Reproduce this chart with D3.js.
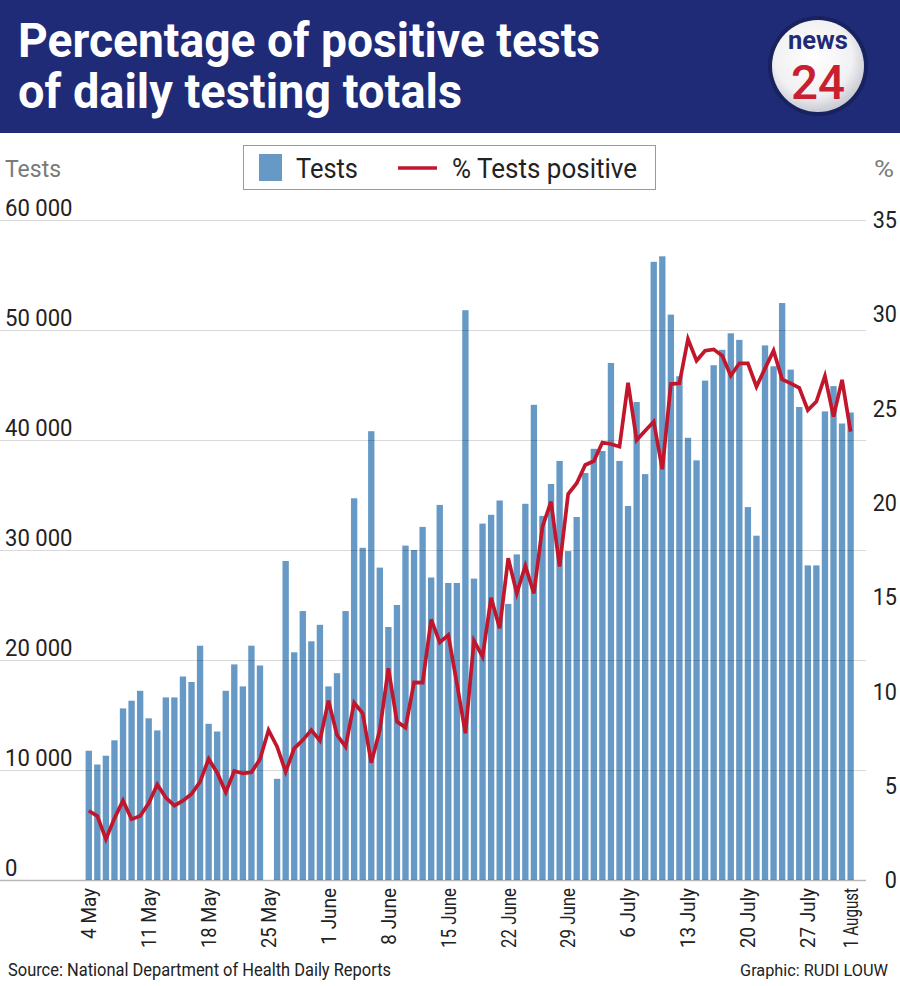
<!DOCTYPE html>
<html>
<head>
<meta charset="utf-8">
<script src="https://cdn.jsdelivr.net/npm/d3@7"></script>
<style>
  html, body { margin: 0; padding: 0; background: #fff; }
  svg { display: block; font-family: Roboto, "Open Sans", "DejaVu Sans", sans-serif; }
</style>
</head>
<body>
<svg id="chart" width="900" height="986"></svg>
<script>
// ---------------- DATA ----------------
const startDay = "2020-05-04";
const endDay = "2020-08-01";
const tests = [
  11750, 10500, 11300, 12700, 15600, 16300, 17200, 14700, 13600, 16600,
  16600, 18500, 18000, 21300, 14200, 13500, 17200, 19600, 17600, 21300,
  19500, null, 9200, 29000, 20700, 24450, 21700, 23200, 17600, 18800,
  24450, 34700, 30200, 40800, 28400, 23000, 25000, 30400, 30000, 32100,
  27500, 34100, 27000, 27000, 51800, 27400, 32400, 33200, 34500, 25100,
  29600, 34200, 43200, 33100, 36000, 38100, 29900, 33000, 37000, 39200,
  39000, 47000, 38100, 34000, 43450, 36900, 56200, 56700, 51400, 45800,
  40200, 38150, 45400, 46800, 48200, 49700, 49100, 33900, 31300, 48600,
  46700, 52450, 46400, 43000, 28600, 28600, 42600, 44900, 41500, 42500
];
const pctPositive = [
  3.67, 3.39, 2.16, 3.27, 4.21, 3.22, 3.39, 4.07, 5.06, 4.37,
  3.94, 4.21, 4.56, 5.2, 6.42, 5.69, 4.65, 5.78, 5.65, 5.71,
  6.4, 7.95, 7.07, 5.74, 6.98, 7.42, 7.95, 7.39, 9.51, 7.69,
  7.07, 9.4, 8.84, 6.22, 7.95, 11.23, 8.4, 8.08, 10.48, 10.47,
  13.82, 12.6, 12.99, 10.43, 7.78, 12.69, 11.84, 14.97, 13.35, 17.06,
  15.2, 16.67, 15.2, 18.74, 20.06, 16.62, 20.47, 21.04, 22.01, 22.22,
  23.2, 23.12, 22.98, 26.37, 23.33, 23.83, 24.31, 21.78, 26.3, 26.34,
  28.69, 27.54, 28.07, 28.14, 27.8, 26.74, 27.4, 27.4, 26.16, 27.13,
  28.07, 26.55, 26.34, 26.1, 24.92, 25.37, 26.73, 24.57, 26.52, 23.78
];
const tickDays = ["2020-05-04","2020-05-11","2020-05-18","2020-05-25","2020-06-01","2020-06-08",
  "2020-06-15","2020-06-22","2020-06-29","2020-07-06","2020-07-13","2020-07-20","2020-07-27","2020-08-01"];
const tickLabels = ["4 May","11 May","18 May","25 May","1 June","8 June","15 June","22 June",
  "29 June","6 July","13 July","20 July","27 July","1 August"];
const leftTicks = [0, 10000, 20000, 30000, 40000, 50000, 60000];
const rightTicks = [0, 5, 10, 15, 20, 25, 30, 35];
const titleLines = ["Percentage of positive tests", "of daily testing totals"];
const seriesNames = ["Tests", "% Tests positive"];

// ---------------- SETUP ----------------
const fmtDay = d3.timeFormat("%Y-%m-%d");
const parseDay = d3.timeParse("%Y-%m-%d");
const days = d3.timeDay.range(parseDay(startDay), d3.timeDay.offset(parseDay(endDay), 1)).map(fmtDay);
const rows = days.map((d, i) => ({ day: d, tests: tests[i], pct: pctPositive[i] }));

const NAVY = "#1f2b77", BLUE = "#6699c5", RED = "#c1162b";
const svg = d3.select("#chart");

function condense(sel, factor, maxW) {
  sel.each(function () {
    let w = this.getComputedTextLength() * factor;
    if (maxW && w > maxW) w = maxW;
    this.setAttribute("textLength", w);
    this.setAttribute("lengthAdjust", "spacingAndGlyphs");
  });
}
function fitWidth(sel, w) {
  sel.attr("textLength", w).attr("lengthAdjust", "spacingAndGlyphs");
}
function fitFont(sel, w) {
  sel.each(function () {
    const fs = parseFloat(this.getAttribute("font-size"));
    const nat = this.getComputedTextLength();
    this.setAttribute("font-size", (fs * w / nat).toFixed(2));
  });
}

const x = d3.scaleBand().domain(days).range([84.5, 854.9]).paddingInner(0.26).paddingOuter(0.13);
const yL = d3.scaleLinear().domain([0, 60000]).range([880, 220]);
const yR = d3.scaleLinear().domain([0, 35]).range([880, 220]);

// ---------------- HEADER ----------------
svg.append("rect").attr("x", 0).attr("y", 0).attr("width", 900).attr("height", 133).attr("fill", NAVY);
const titleW = [582, 444];
svg.selectAll("text.title").data(titleLines).join("text")
  .attr("class", "title")
  .attr("x", 18).attr("y", (d, i) => 57 + i * 51)
  .attr("fill", "#fff").attr("font-size", 49).attr("font-weight", 700)
  .text(d => d)
  .each(function (d, i) { fitWidth(d3.select(this), titleW[i]); });

// logo
const defs = svg.append("defs");
const rg = defs.append("radialGradient").attr("id", "logoGrad").attr("cx", "45%").attr("cy", "40%").attr("r", "60%");
rg.append("stop").attr("offset", "0%").attr("stop-color", "#ffffff");
rg.append("stop").attr("offset", "70%").attr("stop-color", "#f1f1f3");
rg.append("stop").attr("offset", "100%").attr("stop-color", "#c9cad3");
const logo = svg.append("g").attr("transform", "translate(818,66)");
logo.append("circle").attr("r", 50).attr("fill", "#18225f");
logo.append("circle").attr("r", 46).attr("fill", "url(#logoGrad)");
logo.append("text").attr("x", 0).attr("y", -17).attr("text-anchor", "middle")
  .attr("font-size", 26).attr("font-weight", 700).attr("fill", NAVY).text("news")
  .call(fitWidth, 60);
logo.append("text").attr("x", 0).attr("y", 33).attr("text-anchor", "middle")
  .attr("font-size", 48).attr("font-weight", 500).attr("fill", "#c8202f").text("24")
  .call(fitWidth, 54);

// ---------------- AXIS TITLES & LEGEND ----------------
svg.append("text").attr("x", 5).attr("y", 177).attr("font-size", 24).attr("fill", "#7a7a7a")
  .text("Tests").call(fitWidth, 56);
svg.append("text").attr("x", 874).attr("y", 177).attr("font-size", 24).attr("fill", "#7a7a7a")
  .text("%").call(fitWidth, 20);

const lg = svg.append("g");
lg.append("rect").attr("x", 243.5).attr("y", 145.5).attr("width", 412).attr("height", 44)
  .attr("fill", "#fff").attr("stroke", "#9a9a9a").attr("stroke-width", 1);
lg.append("rect").attr("x", 259).attr("y", 154).attr("width", 23).attr("height", 27).attr("fill", BLUE);
lg.append("text").attr("x", 296).attr("y", 178).attr("font-size", 27).attr("fill", "#222")
  .text(seriesNames[0]).call(fitWidth, 62);
lg.append("line").attr("x1", 398).attr("x2", 437).attr("y1", 168).attr("y2", 168)
  .attr("stroke", RED).attr("stroke-width", 3.5);
lg.append("text").attr("x", 452).attr("y", 178).attr("font-size", 27).attr("fill", "#222")
  .text(seriesNames[1]).call(fitWidth, 185);

// ---------------- BARS ----------------
svg.append("g").selectAll("rect").data(rows.filter(r => r.tests != null)).join("rect")
  .attr("x", d => x(d.day)).attr("width", x.bandwidth())
  .attr("y", d => yL(d.tests)).attr("height", d => yL(0) - yL(d.tests))
  .attr("fill", BLUE);

// ---------------- LEFT AXIS + GRID ----------------
const fmtThousands = d => d3.format(",")(d).replace(/,/g, " ");
const gL = svg.append("g").attr("transform", "translate(0,0)")
  .call(d3.axisRight(yL).tickValues(leftTicks).tickSize(866).tickFormat(fmtThousands));
gL.select(".domain").remove();
gL.selectAll(".tick line").attr("stroke", "#000").attr("stroke-opacity", d => d === 0 ? 0.28 : 0.15).attr("stroke-width", d => d === 0 ? 1.5 : 1);
gL.selectAll(".tick text")
  .attr("x", 5).attr("dy", 0).attr("y", -5)
  .attr("text-anchor", "start").attr("font-size", 24).attr("fill", "#222")
  .attr("font-family", "Roboto, sans-serif")
  .call(condense, 0.92);

// ---------------- RIGHT AXIS ----------------
const gR = svg.append("g").attr("transform", "translate(897,0)")
  .call(d3.axisLeft(yR).tickValues(rightTicks).tickSize(0).tickPadding(0));
gR.select(".domain").remove();
gR.selectAll(".tick text").attr("font-size", 24).attr("fill", "#222").attr("font-family", "Roboto, sans-serif")
  .call(condense, 0.9);

// ---------------- LINE ----------------
const line = d3.line().x(d => x(d.day) + x.bandwidth() / 2).y(d => yR(d.pct));
svg.append("path").datum(rows).attr("d", line)
  .attr("fill", "none").attr("stroke", RED).attr("stroke-width", 3.7)
  .attr("stroke-linejoin", "miter").attr("stroke-miterlimit", 4);

// ---------------- X AXIS ----------------
const tickMap = new Map(tickDays.map((d, i) => [d, tickLabels[i]]));
const gX = svg.append("g").attr("transform", "translate(0,888)")
  .call(d3.axisBottom(x).tickValues(tickDays).tickSize(0).tickFormat(d => tickMap.get(d)));
gX.select(".domain").remove();
gX.selectAll(".tick text")
  .attr("transform", "rotate(-90)")
  .attr("x", 0).attr("y", 0).attr("dy", "0.35em").attr("dx", 0)
  .attr("text-anchor", "end").attr("font-size", 21).attr("fill", "#222")
  .attr("font-family", "Roboto, sans-serif")
  .call(condense, 0.9, 60);

// ---------------- FOOTER ----------------
svg.append("text").attr("x", 8).attr("y", 976).attr("font-size", 18).attr("fill", "#222")
  .text("Source: National Department of Health Daily Reports").call(fitWidth, 383);
svg.append("text").attr("x", 888).attr("y", 976).attr("text-anchor", "end").attr("font-size", 18).attr("fill", "#222")
  .text("Graphic: RUDI LOUW").call(fitFont, 148);
</script>
</body>
</html>
